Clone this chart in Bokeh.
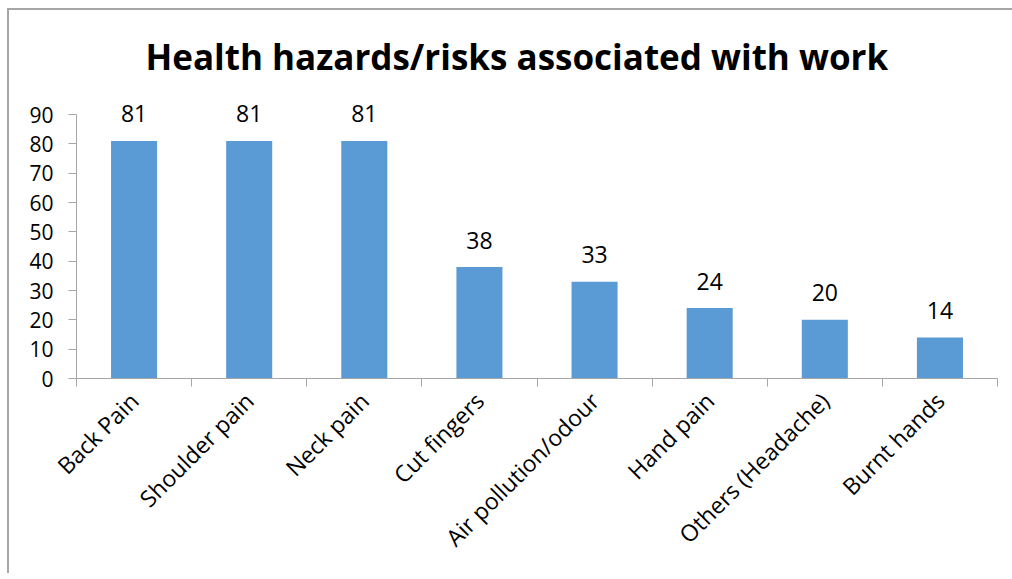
import math
from bokeh.plotting import figure
from bokeh.models import (ColumnDataSource, Range1d, LinearAxis, FixedTicker, Title)
from bokeh.core.properties import value
from bokeh.embed import file_html
from bokeh.resources import INLINE

categories = ["Back Pain", "Shoulder pain", "Neck pain", "Cut fingers",
              "Air pollution/odour", "Hand pain", "Others (Headache)", "Burnt hands"]
counts = [81, 81, 81, 38, 33, 24, 20, 14]
y_ticks = [0, 10, 20, 30, 40, 50, 60, 70, 80, 90]
title_text = "Health hazards/risks associated with work"

FONT = "Open Sans"
GRAY = "#a6a6a6"
BAR = "#5b9bd5"

n = len(categories)
centers = [i + 0.5 for i in range(n)]          # slot centres on a 0..n axis
bounds = list(range(n + 1))                     # slot boundaries (tick marks)

# the frame reaches a little above 90 so the value labels are not clipped;
# the y axis itself is bounded to 0..90
AXIS_H = 264          # pixel height of the 0..90 axis
FRAME_H = 282
y_top = 90 * FRAME_H / AXIS_H

src = ColumnDataSource(dict(x=centers, val=counts, lab=[str(v) for v in counts]))

p = figure(x_range=Range1d(0, n), y_range=Range1d(0, y_top),
           frame_width=921, frame_height=FRAME_H,
           min_border_left=67, min_border_top=86, min_border_right=15, min_border_bottom=195,
           output_backend="svg", toolbar_location=None,
           x_axis_location=None, y_axis_location=None)
p.styles = {"border-left": "2px solid #a6a6a6", "border-top": "2px solid #a6a6a6",
            "border-right": "none", "border-bottom": "none", "overflow": "hidden",
            "margin-left": "7px", "margin-top": "8px"}

p.outline_line_color = None
p.xgrid.visible = False
p.ygrid.visible = False
p.background_fill_color = "white"
p.border_fill_color = "white"

# spacer between title and frame
p.add_layout(Title(text=" ", text_font_size="9px", standoff=0), "above")

p.title.text = title_text
p.title.text_font = FONT
p.title.text_font_style = "bold"
p.title.text_font_size = "35px"
p.title.align = "left"
p.title.offset = 69
p.title.text_color = "black"

p.vbar(x="x", top="val", width=0.4, source=src, fill_color=BAR, line_color=None)
p.text(x="x", y="val", text="lab", source=src, text_align="center",
       text_baseline="alphabetic", y_offset=-27, text_font=value(FONT),
       text_font_size="23px", text_color="black")

# y axis
yax = LinearAxis(ticker=FixedTicker(ticks=y_ticks), bounds=(0, 90))
yax.axis_line_color = GRAY
yax.major_tick_line_color = GRAY
yax.major_tick_in = 0
yax.major_tick_out = 8
yax.minor_tick_line_color = None
yax.major_label_text_font = FONT
yax.major_label_text_font_size = "21px"
yax.major_label_text_color = "black"
yax.major_label_standoff = 15
p.add_layout(yax, "left")

# x tick marks at slot boundaries
tax = LinearAxis(ticker=FixedTicker(ticks=bounds))
tax.axis_line_color = GRAY
tax.major_tick_line_color = GRAY
tax.major_tick_in = 0
tax.major_tick_out = 8
tax.minor_tick_line_color = None
tax.major_label_text_font_size = "0px"
tax.major_label_text_color = None
tax.major_label_standoff = 0
p.add_layout(tax, "below")

# category labels at slot centres
cax = LinearAxis(ticker=FixedTicker(ticks=centers),
                 major_label_overrides={c: name for c, name in zip(centers, categories)})
cax.axis_line_color = None
cax.major_tick_line_color = None
cax.minor_tick_line_color = None
cax.major_label_orientation = math.pi / 4
cax.major_label_text_font = FONT
cax.major_label_text_font_size = "23px"
cax.major_label_text_color = "black"
cax.major_label_standoff = 4
p.add_layout(cax, "below")

open("out.html", "w").write(file_html(p, INLINE))
